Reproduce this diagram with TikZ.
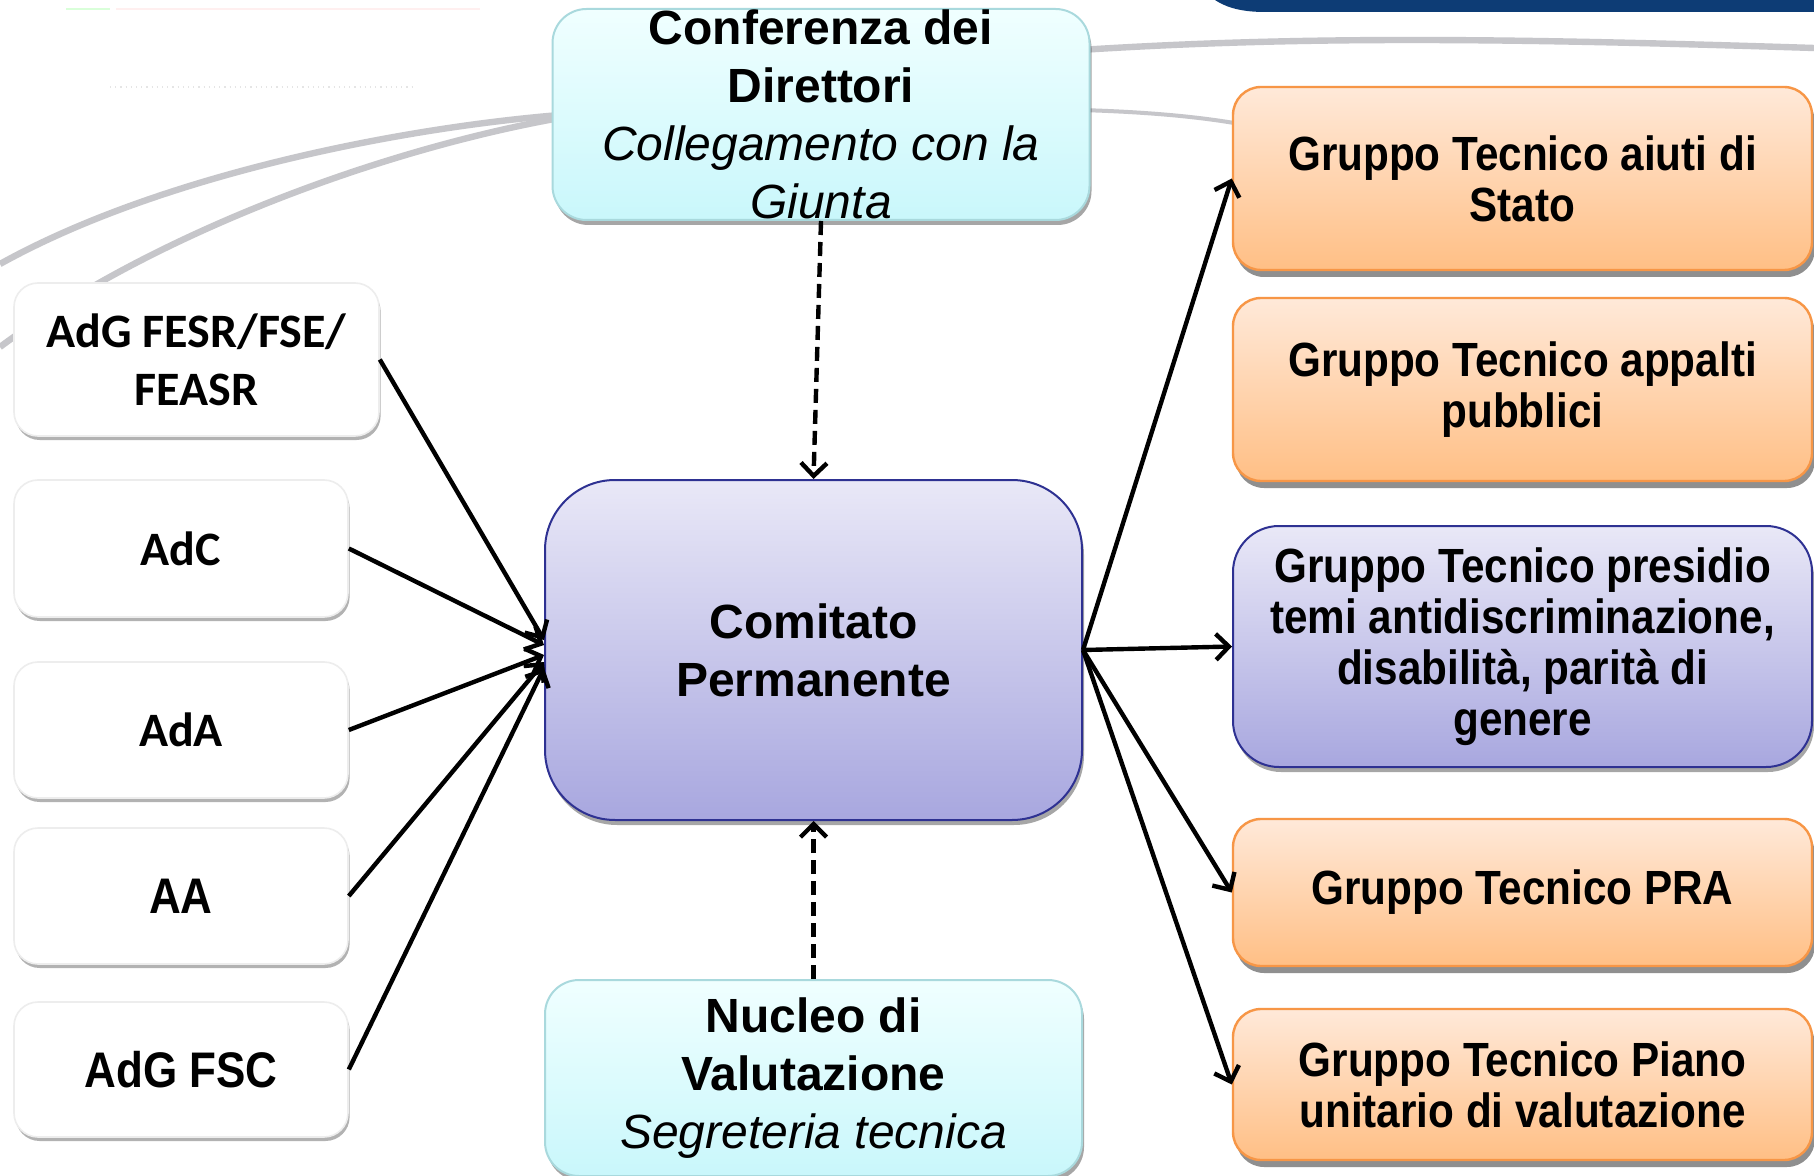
\documentclass[tikz,border=0pt]{standalone}
\usepackage{fontspec}
\setmainfont{Liberation Sans}
\newfontfamily\carlito{Carlito}
\newfontfamily\narrowsans[FakeStretch=0.88]{Liberation Sans}
\usetikzlibrary{arrows.meta,shadows}
\definecolor{cyanTop}{HTML}{F0FFFF}
\definecolor{cyanBot}{HTML}{C9F7FB}
\definecolor{cyanLine}{HTML}{A9D9DD}
\definecolor{violTop}{HTML}{E9E8F7}
\definecolor{violBot}{HTML}{A8A7DF}
\definecolor{violLine}{HTML}{2E3192}
\definecolor{orTop}{HTML}{FFE9D9}
\definecolor{orBot}{HTML}{FFBF85}
\definecolor{orLine}{HTML}{F79646}
\definecolor{bgLine}{HTML}{C6C6CA}
\definecolor{navy}{HTML}{0D3C75}
\begin{document}
\begin{tikzpicture}[x=0.5pt,y=-0.5pt,
  cyanbox/.style={draw=cyanLine, line width=1pt, top color=cyanTop, bottom color=cyanBot,
    rounded corners=17pt, inner sep=0pt, minimum width=268.5pt,
    drop shadow={shadow xshift=1pt, shadow yshift=-2.5pt, opacity=0.35, fill=black}},
  violbox/.style={draw=violLine, line width=1pt, top color=violTop, bottom color=violBot,
    inner sep=0pt, align=center,
    drop shadow={shadow xshift=1pt, shadow yshift=-2.5pt, opacity=0.35, fill=black}},
  orbox/.style={draw=orLine, line width=1.2pt, top color=orTop, bottom color=orBot,
    rounded corners=14pt, inner sep=0pt, align=center, minimum width=289.5pt,
    drop shadow={shadow xshift=1.5pt, shadow yshift=-3.5pt, opacity=0.55, fill=black!80}},
  whitebox/.style={draw=black!7, line width=0.8pt, fill=white, rounded corners=12pt,
    inner sep=0pt, align=center,
    drop shadow={shadow xshift=0.8pt, shadow yshift=-2pt, opacity=0.3, fill=black}},
  bigtxt/.style={font=\fontsize{24}{29}\selectfont\bfseries},
  gttxt/.style={font=\narrowsans\fontsize{24}{25.6}\selectfont\bfseries},
  lfttxt/.style={font=\carlito\fontsize{24}{29}\selectfont\bfseries},
  narrtxt/.style={font=\narrowsans\fontsize{25}{29}\selectfont\bfseries},
  arr/.style={line width=2.2pt, -{Straight Barb[length=6.5pt,width=13pt]}},
  darr/.style={arr, dash pattern=on 7pt off 3.5pt},
  bgcurve/.style={draw=bgLine, line width=3.2pt}
]
\useasboundingbox (0,0) rectangle (1814,1176);
\fill[white] (0,0) rectangle (1814,1176);

% faint decorations
\draw[green!15, line width=1pt] (66,9) -- (110,9);
\draw[pink!25, line width=1pt] (116,9) -- (480,9);
\draw[black!10, line width=0.6pt, dotted] (110,87) -- (416,87);
\fill[navy] (1215,0) -- (1814,0) -- (1814,12) -- (1265,12) .. controls (1238,12) and (1224,6) .. (1215,0);

% background gray curves
\draw[bgcurve] (560,115) .. controls (400,128) and (160,175) .. (0,264);
\draw[bgcurve] (560,118) .. controls (380,150) and (150,235) .. (0,347);
\draw[bgcurve] (1080,50) .. controls (1300,36) and (1500,38) .. (1814,48);
\draw[draw=bgLine, line width=2pt] (1080,110) .. controls (1150,112) and (1200,117) .. (1240,124);

% top and bottom cyan boxes
\node[cyanbox, minimum height=105.5pt] (conf) at (821,114.5) {};
\node[font=\fontsize{24}{29}\selectfont, align=center] (conftxt) at (conf.center)
  {\textbf{Conferenza dei}\\\textbf{Direttori}\\\textit{Collegamento con la}\\\textit{Giunta}};
\node[cyanbox, minimum height=98pt] (nuc) at (813.5,1078) {};
\node[font=\fontsize{24}{29}\selectfont, align=center] (nuctxt) at (nuc.center)
  {\textbf{Nucleo di}\\\textbf{Valutazione}\\\textit{Segreteria tecnica}};

% central box
\node[violbox, bigtxt, rounded corners=35pt, minimum width=268.5pt, minimum height=170pt]
  (com) at (813.5,650) {Comitato\\Permanente};

% left boxes
\node[whitebox, lfttxt, minimum width=182.5pt, minimum height=76.5pt] (l1) at (196.5,359.5) {AdG FESR/FSE/\\FEASR};
\node[whitebox, lfttxt, minimum width=167pt, minimum height=68.5pt] (l2) at (181,548.5) {AdC};
\node[whitebox, lfttxt, minimum width=167pt, minimum height=68pt] (l3) at (181,730) {AdA};
\node[whitebox, narrtxt, minimum width=167pt, minimum height=68pt] (l4) at (181,896) {AA};
\node[whitebox, narrtxt, minimum width=167pt, minimum height=67.5pt] (l5) at (181,1069.5) {AdG FSC};

% right boxes
\node[orbox, gttxt, minimum height=91.5pt] (r1) at (1522.5,178.5) {Gruppo Tecnico aiuti di\\Stato};
\node[orbox, gttxt, minimum height=91.5pt] (r2) at (1522.5,389.5) {Gruppo Tecnico appalti\\pubblici};
\node[violbox, gttxt, rounded corners=23pt, minimum width=289.5pt, minimum height=120.5pt] (r3) at (1522.5,646.5)
  {Gruppo Tecnico presidio\\temi antidiscriminazione,\\disabilità, parità di\\genere};
\node[orbox, gttxt, minimum height=73.5pt] (r4) at (1522.5,892.5) {Gruppo Tecnico PRA};
\node[orbox, gttxt, minimum height=75.5pt] (r5) at (1522.5,1084.5) {Gruppo Tecnico Piano\\unitario di valutazione};

% connectors
\draw[arr] (l1.east) -- ([yshift=5pt]com.west);
\draw[arr] (l2.east) -- ([yshift=2.5pt]com.west);
\draw[arr] (l3.east) -- ([yshift=-2.5pt]com.west);
\draw[arr] (l4.east) -- ([yshift=-6pt]com.west);
\draw[arr] (l5.east) -- ([yshift=-9pt]com.west);

\draw[arr] (com.east) -- (r1.west);
\draw[arr] (com.east) -- (r3.west);
\draw[arr] (com.east) -- (r4.west);
\draw[arr] (com.east) -- (r5.west);

\draw[darr] (conf.south) -- (com.north);
\draw[darr] (nuc.north) -- (com.south);
\end{tikzpicture}
\end{document}
